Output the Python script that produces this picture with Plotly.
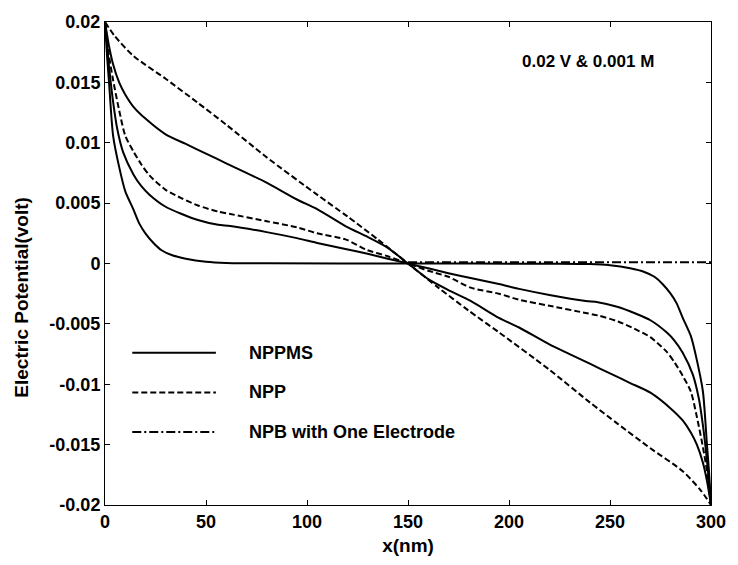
import plotly.graph_objects as go

# ---- data ----
nppms_a_x = [0, 2, 4, 7, 10, 14, 20, 30, 40, 50, 60, 70, 80, 95, 105, 119, 130, 140, 150,
             160, 170, 181, 195, 205, 220, 230, 240, 250, 260, 270, 280, 286, 290, 293, 296, 298, 300]
nppms_a_y = [0.0200, 0.0180, 0.0165, 0.0150, 0.0140, 0.0130, 0.0120, 0.0107, 0.0099, 0.0091, 0.0083,
             0.0075, 0.0067, 0.0053, 0.0045, 0.0031, 0.0022, 0.0013, 0.0,
             -0.0013, -0.0022, -0.0031, -0.0045, -0.0053, -0.0067, -0.0075, -0.0083, -0.0091, -0.0099,
             -0.0107, -0.0120, -0.0130, -0.0140, -0.0150, -0.0165, -0.0180, -0.0200]

nppms_b_x = [0, 2, 4, 6, 9, 14, 18, 22, 30, 38, 46, 56, 62, 80, 95, 105, 119, 130, 140, 150,
             160, 170, 181, 195, 205, 220, 238, 244, 254, 262, 270, 278, 282, 286, 291, 294, 296, 298, 300]
nppms_b_y = [0.0200, 0.0163, 0.0134, 0.0112, 0.0092, 0.0074, 0.0064, 0.0057, 0.0047, 0.0041, 0.0036,
             0.0032, 0.0031, 0.0026, 0.0021, 0.0017, 0.0012, 0.0008, 0.0004, 0.0,
             -0.0004, -0.0008, -0.0012, -0.0017, -0.0021, -0.0026, -0.0031, -0.0032, -0.0036, -0.0041,
             -0.0047, -0.0057, -0.0064, -0.0074, -0.0092, -0.0112, -0.0134, -0.0163, -0.0200]

nppms_c_x = [0, 1, 2, 4, 7, 10, 14, 17, 20, 24, 28, 33, 40, 50, 60, 80, 150,
             220, 240, 250, 260, 267, 272, 276, 280, 283, 286, 290, 293, 296, 298, 299, 300]
nppms_c_y = [0.0200, 0.0172, 0.0150, 0.0106, 0.0080, 0.0060, 0.0045, 0.0033, 0.0025, 0.0017, 0.0011,
             0.0007, 0.0004, 0.00015, 0.00005, 0.00002, 0.0,
             -0.00002, -0.00005, -0.00015, -0.0004, -0.0007, -0.0011, -0.0017, -0.0025, -0.0033,
             -0.0045, -0.0060, -0.0080, -0.0106, -0.0150, -0.0172, -0.0200]

npp_a_x = [0, 5, 14, 30, 46, 60, 80, 105, 120, 135, 150,
           165, 180, 195, 220, 240, 254, 270, 286, 295, 300]
npp_a_y = [0.0200, 0.0188, 0.0172, 0.0153, 0.0133, 0.0115, 0.0088, 0.0057, 0.0039, 0.0020, 0.0,
           -0.0020, -0.0039, -0.0057, -0.0088, -0.0115, -0.0133, -0.0153, -0.0172, -0.0188, -0.0200]

npp_b_x = [0, 2, 4, 7, 10, 14, 18, 22, 30, 38, 46, 56, 62, 80, 95, 105, 119, 130, 140, 150,
           160, 170, 181, 195, 205, 220, 238, 244, 254, 262, 270, 278, 282, 286, 290, 293, 296, 298, 300]
npp_b_y = [0.0200, 0.0172, 0.0152, 0.0127, 0.0106, 0.0093, 0.0082, 0.0073, 0.0061, 0.0054, 0.0048,
           0.0043, 0.0041, 0.0035, 0.0030, 0.0025, 0.0020, 0.0011, 0.0006, 0.0,
           -0.0006, -0.0011, -0.0020, -0.0025, -0.0030, -0.0035, -0.0041, -0.0043, -0.0048, -0.0054,
           -0.0061, -0.0073, -0.0082, -0.0093, -0.0106, -0.0127, -0.0152, -0.0172, -0.0200]

npb_x = [150, 300]
npb_y = [0.0001, 0.0001]

x_ticks = [0, 50, 100, 150, 200, 250, 300]
y_ticks = [-0.02, -0.015, -0.01, -0.005, 0, 0.005, 0.01, 0.015, 0.02]
y_tick_text = ["-0.02", "-0.015", "-0.01", "-0.005", "0", "0.005", "0.01", "0.015", "0.02"]

legend_names = ["NPPMS", "NPP", "NPB with One Electrode"]
note_text = "0.02 V &amp; 0.001 M"
x_title = "x(nm)"
y_title = "Electric Potential(volt)"

# ---- figure ----
FONT = "Liberation Sans, Arial, sans-serif"
SOLID = "solid"
DASH = "6px,3px"
DASHDOT = "9px,3px,2px,3px"

fig = go.Figure()
for xs, ys in [(nppms_a_x, nppms_a_y), (nppms_b_x, nppms_b_y), (nppms_c_x, nppms_c_y)]:
    fig.add_trace(go.Scatter(x=xs, y=ys, mode="lines",
                             line=dict(color="black", width=2, dash=SOLID, shape="spline", smoothing=0.7),
                             showlegend=False))
for xs, ys in [(npp_a_x, npp_a_y), (npp_b_x, npp_b_y)]:
    fig.add_trace(go.Scatter(x=xs, y=ys, mode="lines",
                             line=dict(color="black", width=2, dash=DASH, shape="spline", smoothing=0.7),
                             showlegend=False))
fig.add_trace(go.Scatter(x=npb_x, y=npb_y, mode="lines",
                         line=dict(color="black", width=2, dash=DASHDOT), showlegend=False))

# custom legend (long line samples as in the reference)
leg_y = [0.315, 0.233, 0.151]
leg_dash = [SOLID, DASH, DASHDOT]
for name, yy, dd in zip(legend_names, leg_y, leg_dash):
    fig.add_shape(type="line", xref="paper", yref="paper", x0=0.045, x1=0.183, y0=yy, y1=yy,
                  line=dict(color="black", width=2, dash=dd))
    fig.add_annotation(xref="paper", yref="paper", x=0.235, y=yy, text="<b>%s</b>" % name,
                       showarrow=False, xanchor="left", yanchor="middle",
                       font=dict(family=FONT, size=18, color="black"))

fig.add_annotation(xref="paper", yref="paper", x=0.91, y=0.918, text="<b>%s</b>" % note_text,
                   showarrow=False, xanchor="right", yanchor="middle",
                   font=dict(family=FONT, size=17, color="black"))

# y-axis title placed slightly below centre, as in the reference
fig.add_annotation(xref="paper", yref="paper", x=-0.138, y=0.43, text="<b>%s</b>" % y_title,
                   textangle=-90, showarrow=False, xanchor="center", yanchor="middle",
                   font=dict(family=FONT, size=19, color="black"))

axis_common = dict(showline=True, linecolor="black", linewidth=1, mirror="ticks",
                   ticks="inside", ticklen=5, tickcolor="black", tickwidth=1,
                   showgrid=False, zeroline=False,
                   tickfont=dict(family=FONT, size=18, color="black"))

fig.update_xaxes(range=[0, 300], tickvals=x_ticks, ticktext=["<b>%d</b>" % v for v in x_ticks],
                 title=dict(text="<b>%s</b>" % x_title, font=dict(family=FONT, size=19, color="black"),
                            standoff=8),
                 **axis_common)
fig.update_yaxes(range=[-0.02, 0.02], tickvals=y_ticks, ticktext=["<b>%s</b>" % t for t in y_tick_text],
                 **axis_common)

fig.update_layout(width=738, height=565, margin=dict(l=105, r=16, t=21, b=55),
                  paper_bgcolor="white", plot_bgcolor="white", showlegend=False)

fig.write_html("out.html")
